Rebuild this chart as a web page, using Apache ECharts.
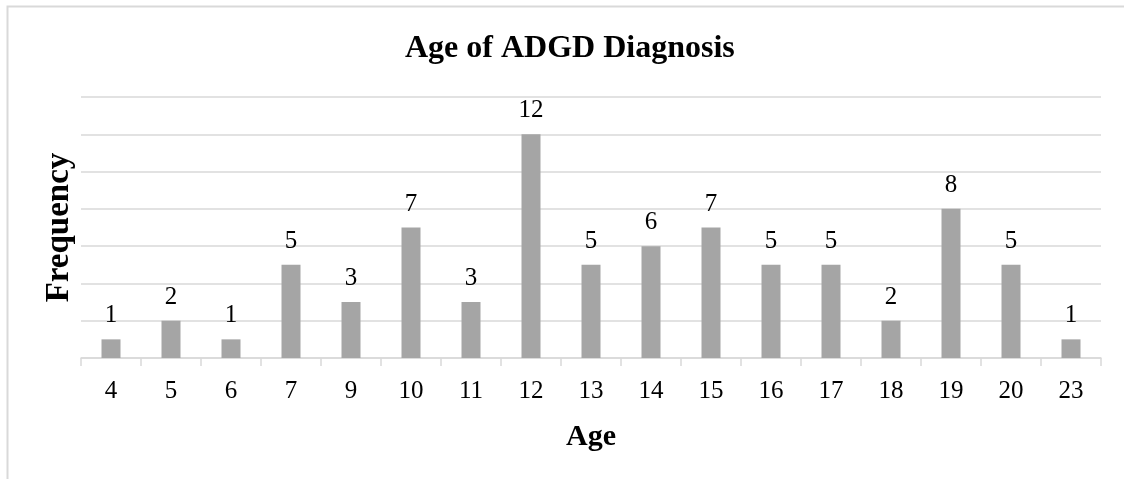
<!DOCTYPE html>
<html>
<head>
<meta charset="utf-8">
<title>Age of ADGD Diagnosis</title>
<script src="https://cdn.jsdelivr.net/npm/echarts@6/dist/echarts.min.js"></script>
<style>
  html, body {margin:0; padding:0; background:#ffffff;}
  #chart {width:1124px; height:479px;}
</style>
</head>
<body>
<div id="chart"></div>
<script>

// data
var ages = ['4','5','6','7','9','10','11','12','13','14','15','16','17','18','19','20','23'];
var counts = [1, 2, 1, 5, 3, 7, 3, 12, 5, 6, 7, 5, 5, 2, 8, 5, 1];
var y_max = 14;
var y_step = 2;

var serif = "'Liberation Serif', 'Times New Roman', serif";

var myChart = echarts.init(document.getElementById('chart'));

var option = {
    backgroundColor: '#ffffff',
    animation: false,

    title: {
        text: 'Age of ADGD Diagnosis',
        left: 400,   // title sits a little right of centre in the original
        top: 28,
        textStyle: {
            fontSize: 32,
            fontWeight: 'bold',
            fontFamily: serif,
            color: '#000000'
        }
    },

    // light frame round the chart (cut off on right and bottom)
    graphic: [{
        type: 'rect',
        shape: {x: 7.5, y: 6.5, width: 1400, height: 800},
        style: {fill: 'none', stroke: '#d9d9d9', lineWidth: 2},
        silent: true
    }],

    grid: {
        left: 81,
        right: 23,
        top: 97,
        bottom: 121
    },

    xAxis: {
        type: 'category',
        data: ages,
        name: 'Age',
        nameLocation: 'middle',
        nameGap: 64,
        nameTextStyle: {
            fontSize: 30,
            fontWeight: 'bold',
            fontFamily: serif,
            color: '#000000'
        },
        axisLine: {show: true, lineStyle: {color: '#d9d9d9', width: 1.5}},
        axisTick: {show: true, length: 8, lineStyle: {color: '#d9d9d9', width: 1.5}},
        axisLabel: {
            fontSize: 25,
            fontFamily: serif,
            color: '#000000',
            margin: 21
        }
    },

    yAxis: {
        type: 'value',
        min: 0,
        max: y_max,
        interval: y_step,
        name: 'Frequency',
        nameLocation: 'middle',
        nameGap: 5,
        nameTextStyle: {
            fontSize: 33,
            fontWeight: 'bold',
            fontFamily: serif,
            color: '#000000'
        },
        axisLine: {show: false},
        axisTick: {show: false},
        axisLabel: {show: false},
        splitLine: {show: true, lineStyle: {color: '#d9d9d9', width: 1.5}}
    },

    series: [{
        type: 'bar',
        data: counts,
        barWidth: 19,
        itemStyle: {color: '#a5a5a5'},
        label: {
            show: true,
            position: 'top',
            distance: 11,
            fontSize: 25,
            fontFamily: serif,
            color: '#000000'
        }
    }]
};

myChart.setOption(option);

window.addEventListener('resize', function(){
    myChart.resize();
});

</script>
</body>
</html>
